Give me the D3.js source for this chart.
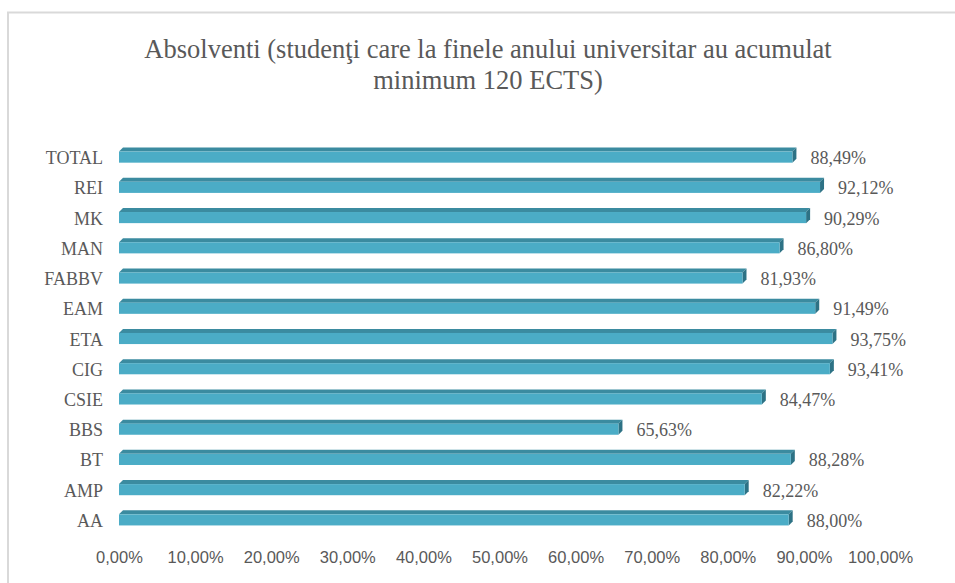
<!DOCTYPE html>
<html>
<head>
<meta charset="utf-8">
<script src="https://cdn.jsdelivr.net/npm/d3@7"></script>
<style>
  body { margin: 0; background: #fff; }
  svg { display: block; }
</style>
</head>
<body>
<svg width="955" height="583"></svg>
<script>
// data
const categories = ["TOTAL", "REI", "MK", "MAN", "FABBV", "EAM", "ETA", "CIG", "CSIE", "BBS", "BT", "AMP", "AA"];
const values = [88.49, 92.12, 90.29, 86.80, 81.93, 91.49, 93.75, 93.41, 84.47, 65.63, 88.28, 82.22, 88.00];
const xTicks = [0, 10, 20, 30, 40, 50, 60, 70, 80, 90, 100];
const titleLines = ["Absolventi (studenţi care la finele anului universitar au acumulat", "minimum 120 ECTS)"];

const serif = "'Liberation Serif', 'Times New Roman', serif";
const sans = "'Liberation Sans', Arial, sans-serif";

const svg = d3.select("svg");
const fmt = v => v.toFixed(2).replace(".", ",") + "%";

// chart frame
svg.append("rect")
  .attr("x", 8).attr("y", 12.5)
  .attr("width", 960).attr("height", 600)
  .attr("fill", "#fff")
  .attr("stroke", "#d9d9d9")
  .attr("stroke-width", 2);

svg.append("text")
  .attr("text-anchor", "middle")
  .style("font-family", serif)
  .style("font-size", "26.5px")
  .attr("fill", "#595959")
  .selectAll("tspan")
  .data(titleLines)
  .join("tspan")
  .attr("x", 488)
  .attr("y", (d, i) => 58 + i * 31)
  .text(d => d);

const x = d3.scaleLinear().domain([0, 100]).range([119, 880]);
const y = d3.scaleBand().domain(categories).range([140, 533]).paddingInner(0.5).paddingOuter(0.25);

const depth = 4;
const bh = y.bandwidth();
const x0 = x(0);

const bars = svg.selectAll(".bar")
  .data(categories.map((c, i) => ({ c, v: values[i] })))
  .join("g")
  .attr("class", "bar");

// top face
bars.append("path")
  .attr("fill", "#3b8ba0")
  .attr("d", d => {
    const yb = y(d.c), xv = x(d.v);
    return `M${x0},${yb + depth}L${x0 + depth},${yb}L${xv + depth},${yb}L${xv},${yb + depth}Z`;
  });

// side face
bars.append("path")
  .attr("fill", "#2d7285")
  .attr("d", d => {
    const yb = y(d.c), xv = x(d.v);
    return `M${xv},${yb + depth}L${xv + depth},${yb}L${xv + depth},${yb + bh - depth}L${xv},${yb + bh}Z`;
  });

// front face
bars.append("rect")
  .attr("x", x0)
  .attr("y", d => y(d.c) + depth)
  .attr("width", d => x(d.v) - x0)
  .attr("height", bh - depth)
  .attr("fill", "#4bacc6");

// value labels
bars.append("text")
  .attr("x", d => x(d.v) + depth + 14)
  .attr("y", d => y(d.c) + bh / 2 + 9)
  .style("font-family", serif)
  .style("font-size", "18px")
  .attr("fill", "#595959")
  .text(d => fmt(d.v));

// category axis
const yAxis = svg.append("g")
  .attr("transform", `translate(${x0 - 4},0)`)
  .call(d3.axisLeft(y).tickSize(0).tickPadding(12));
yAxis.select(".domain").remove();
yAxis.selectAll("text")
  .attr("dy", "0.5em")
  .style("font-family", serif)
  .style("font-size", "18px")
  .attr("fill", "#595959");

// value axis
const xAxis = svg.append("g")
  .attr("transform", "translate(0,546)")
  .call(d3.axisBottom(x).tickValues(xTicks).tickSize(0).tickPadding(5).tickFormat(fmt));
xAxis.select(".domain").remove();
xAxis.selectAll("text")
  .style("font-family", sans)
  .style("font-size", "16.5px")
  .attr("fill", "#595959");
</script>
</body>
</html>
